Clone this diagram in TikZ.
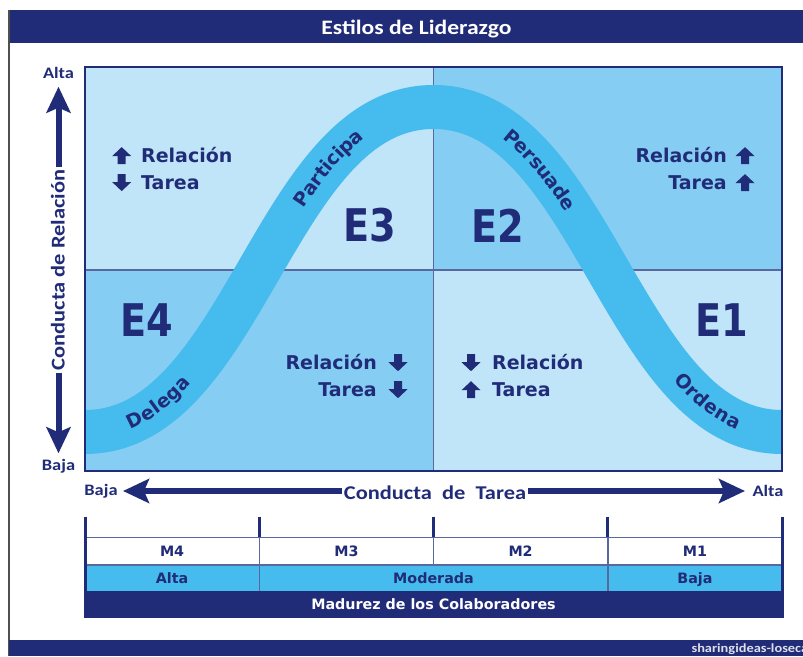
\documentclass[tikz,border=0pt]{standalone}
\usepackage{fontspec}
\setmainfont{DejaVu Sans}
\newfontfamily\calfont[FakeStretch=1.15]{Carlito}
\newfontfamily\efont[FakeStretch=0.85]{DejaVu Sans}
\usetikzlibrary{arrows.meta,positioning,decorations.text}

\definecolor{navy}{RGB}{33,44,120}
\definecolor{band}{RGB}{70,187,237}
\definecolor{paleq}{RGB}{192,228,248}
\definecolor{midq}{RGB}{134,205,243}
\definecolor{gridc}{RGB}{88,104,160}
\definecolor{framec}{RGB}{80,80,80}

\newcommand{\curvefont}{\bfseries\fontsize{19}{23}\selectfont}

\begin{document}
\begin{tikzpicture}[x=1pt, y=1pt,
    qlabel/.style={font=\bfseries\fontsize{19}{22}\selectfont, text=navy, inner sep=0pt},
    elabel/.style={font=\efont\bfseries\fontsize{45}{50}\selectfont, text=navy, inner sep=0pt},
    axislabel/.style={font=\calfont\bfseries\fontsize{16}{18}\selectfont, text=navy, inner sep=0pt},
    axistitle/.style={font=\calfont\bfseries\fontsize{19.5}{22}\selectfont, text=navy, inner sep=2pt},
    bigarrow/.style={navy, line width=6pt, -{Stealth[length=26pt, width=24pt, inset=5pt]}},
    cell/.style={font=\bfseries\fontsize{14.3}{16}\selectfont, text=navy, inner sep=0pt},
    curvelabel/.style={decorate, decoration={text along path, text color=navy, raise=-6.5pt, #1}},
    uparr/.pic={\fill[navy] (0,8.5) -- (9.5,-0.5) -- (4,-0.5) -- (4,-8.5) -- (-4,-8.5) -- (-4,-0.5) -- (-9.5,-0.5) -- cycle;},
    dnarr/.pic={\fill[navy] (0,-8.5) -- (9.5,0.5) -- (4,0.5) -- (4,8.5) -- (-4,8.5) -- (-4,0.5) -- (-9.5,0.5) -- cycle;}
]
    \clip (0,0) rectangle (803,656);
    \fill[white] (0,0) rectangle (803,656);

    % title bar and frame
    \fill[navy] (8,613) rectangle (803,646);
    \draw[framec, line width=1.2pt] (9,646) -- (9,0);
    \fill[navy] (9,0) rectangle (803,16);
    \node[font=\calfont\bfseries\fontsize{20.5}{23}\selectfont, text=white, anchor=base] (title) at (416.5,621) {Estilos de Liderazgo};
    \node[font=\calfont\bfseries\fontsize{12.5}{14}\selectfont, text=white!85!navy, anchor=base west] (credit) at (688,4) {sharingideas-losecav};

    % quadrants
    \fill[paleq] (85,386) rectangle (433.5,589);
    \fill[midq] (433.5,386) rectangle (782,589);
    \fill[midq] (85,185) rectangle (433.5,386);
    \fill[paleq] (433.5,185) rectangle (782,386);
    \draw[gridc, line width=1.8pt] (433.5,185) -- (433.5,589);
    \draw[gridc, line width=1.8pt] (85,386) -- (782,386);

    % band
    \begin{scope}
        \clip (85,185) rectangle (782,589);
        \draw[band, line width=44pt] (40,224) -- (85,224) .. controls (245,224) and (273.5,549) .. (433.5,549)
            .. controls (593.5,549) and (622,224) .. (782,224) -- (830,224);
    \end{scope}
    \draw[navy, line width=2.5pt] (85,185) rectangle (782,589);

    % band labels
    \path[curvelabel={text={|\curvefont|Delega}, text align={left indent=44pt}}] (85,224) .. controls (245,224) and (273.5,549) .. (433.5,549);
    \path[curvelabel={text={|\curvefont|Participa}, text align={left indent=325pt}}] (85,224) .. controls (245,224) and (273.5,549) .. (433.5,549);
    \path[curvelabel={text={|\curvefont|Persuade}, text align={left indent=79pt}}] (433.5,549) .. controls (593.5,549) and (622,224) .. (782,224);
    \path[curvelabel={text={|\curvefont|Ordena}, text align={left indent=378pt}}] (433.5,549) .. controls (593.5,549) and (622,224) .. (782,224);

    % styles
    \node[elabel] (e3) at (370,431) {E3};
    \node[elabel] (e2) at (498,430) {E2};
    \node[elabel] (e4) at (147,336) {E4};
    \node[elabel] (e1) at (722,336) {E1};

    % relation / task
    \node[qlabel, anchor=base west] (tlRel) at (141,493.5) {Relación};
    \node[qlabel, anchor=base west] (tlTar) at (141,466.5) {Tarea};
    \pic at (121.7,500.4) {uparr};
    \pic at (121.7,473.4) {dnarr};

    \node[qlabel, anchor=base east] (trRel) at (727,493.5) {Relación};
    \node[qlabel, anchor=base east] (trTar) at (727,466.5) {Tarea};
    \pic at (745,500.4) {uparr};
    \pic at (745,473.4) {uparr};

    \node[qlabel, anchor=base east] (blRel) at (377,286.4) {Relación};
    \node[qlabel, anchor=base east] (blTar) at (377,259.4) {Tarea};
    \pic at (398,293.3) {dnarr};
    \pic at (398,266.3) {dnarr};

    \node[qlabel, anchor=base west] (brRel) at (492,286.4) {Relación};
    \node[qlabel, anchor=base west] (brTar) at (492,259.4) {Tarea};
    \pic at (471,293.3) {dnarr};
    \pic at (471,266.3) {uparr};

    % vertical axis
    \node[axislabel] (relAlta) at (58.5,582.7) {Alta};
    \node[axislabel] (relBaja) at (58.5,189.3) {Baja};
    \node[axistitle, rotate=90, anchor=base] (relTitle) at (64.5,386) {Conducta de Relación};
    \coordinate (relTop) at (58.5,569.3);
    \coordinate (relBot) at (58.5,202.7);
    \draw[bigarrow] (relTitle.east -| relTop) -- (relTop);
    \draw[bigarrow] (relTitle.west -| relBot) -- (relBot);

    % horizontal axis
    \node[axistitle, anchor=base] (tarTitle) at (435,156) {Conducta~ de~ Tarea};
    \coordinate (tarLeft) at (123,165);
    \coordinate (tarRight) at (745,165);
    \draw[bigarrow] (tarTitle.west |- tarLeft) -- (tarLeft);
    \draw[bigarrow] (tarTitle.east |- tarRight) -- (tarRight);
    \node[axislabel] (tarBaja) at (101,165) {Baja};
    \node[axislabel] (tarAlta) at (768,165) {Alta};

    % maturity table
    \fill[white] (85,91) rectangle (782,118.7);
    \fill[band] (85,65) rectangle (782,91);
    \fill[navy] (85,37.7) rectangle (782,65);
    \draw[gridc, line width=1.5pt] (85,118.7) -- (782,118.7);
    \draw[gridc, line width=1.5pt] (85,91) -- (782,91);
    \foreach \x in {259.25,433.5,607.75}
        \draw[navy, line width=3pt] (\x,139.3) -- (\x,118.7);
    \foreach \x in {259.25,433.5,607.75}
        \draw[gridc, line width=1.5pt] (\x,118.7) -- (\x,91);
    \foreach \x in {259.25,607.75}
        \draw[gridc, line width=1.5pt] (\x,91) -- (\x,65);
    \foreach \x in {85,782}
        \draw[navy, line width=3pt] (\x,139.3) -- (\x,37.7);

    \node[cell, anchor=base] (m4) at (172.1,99.7) {M4};
    \node[cell, anchor=base] (m3) at (346.4,99.7) {M3};
    \node[cell, anchor=base] (m2) at (520.6,99.7) {M2};
    \node[cell, anchor=base] (m1) at (694.9,99.7) {M1};
    \node[cell, anchor=base] (alta) at (172.1,72.8) {Alta};
    \node[cell, anchor=base] (moderada) at (433.5,72.8) {Moderada};
    \node[cell, anchor=base] (baja) at (694.9,72.8) {Baja};
    \node[cell, text=white, anchor=base] (madurez) at (433.5,46.2) {Madurez de los Colaboradores};
\end{tikzpicture}
\end{document}
